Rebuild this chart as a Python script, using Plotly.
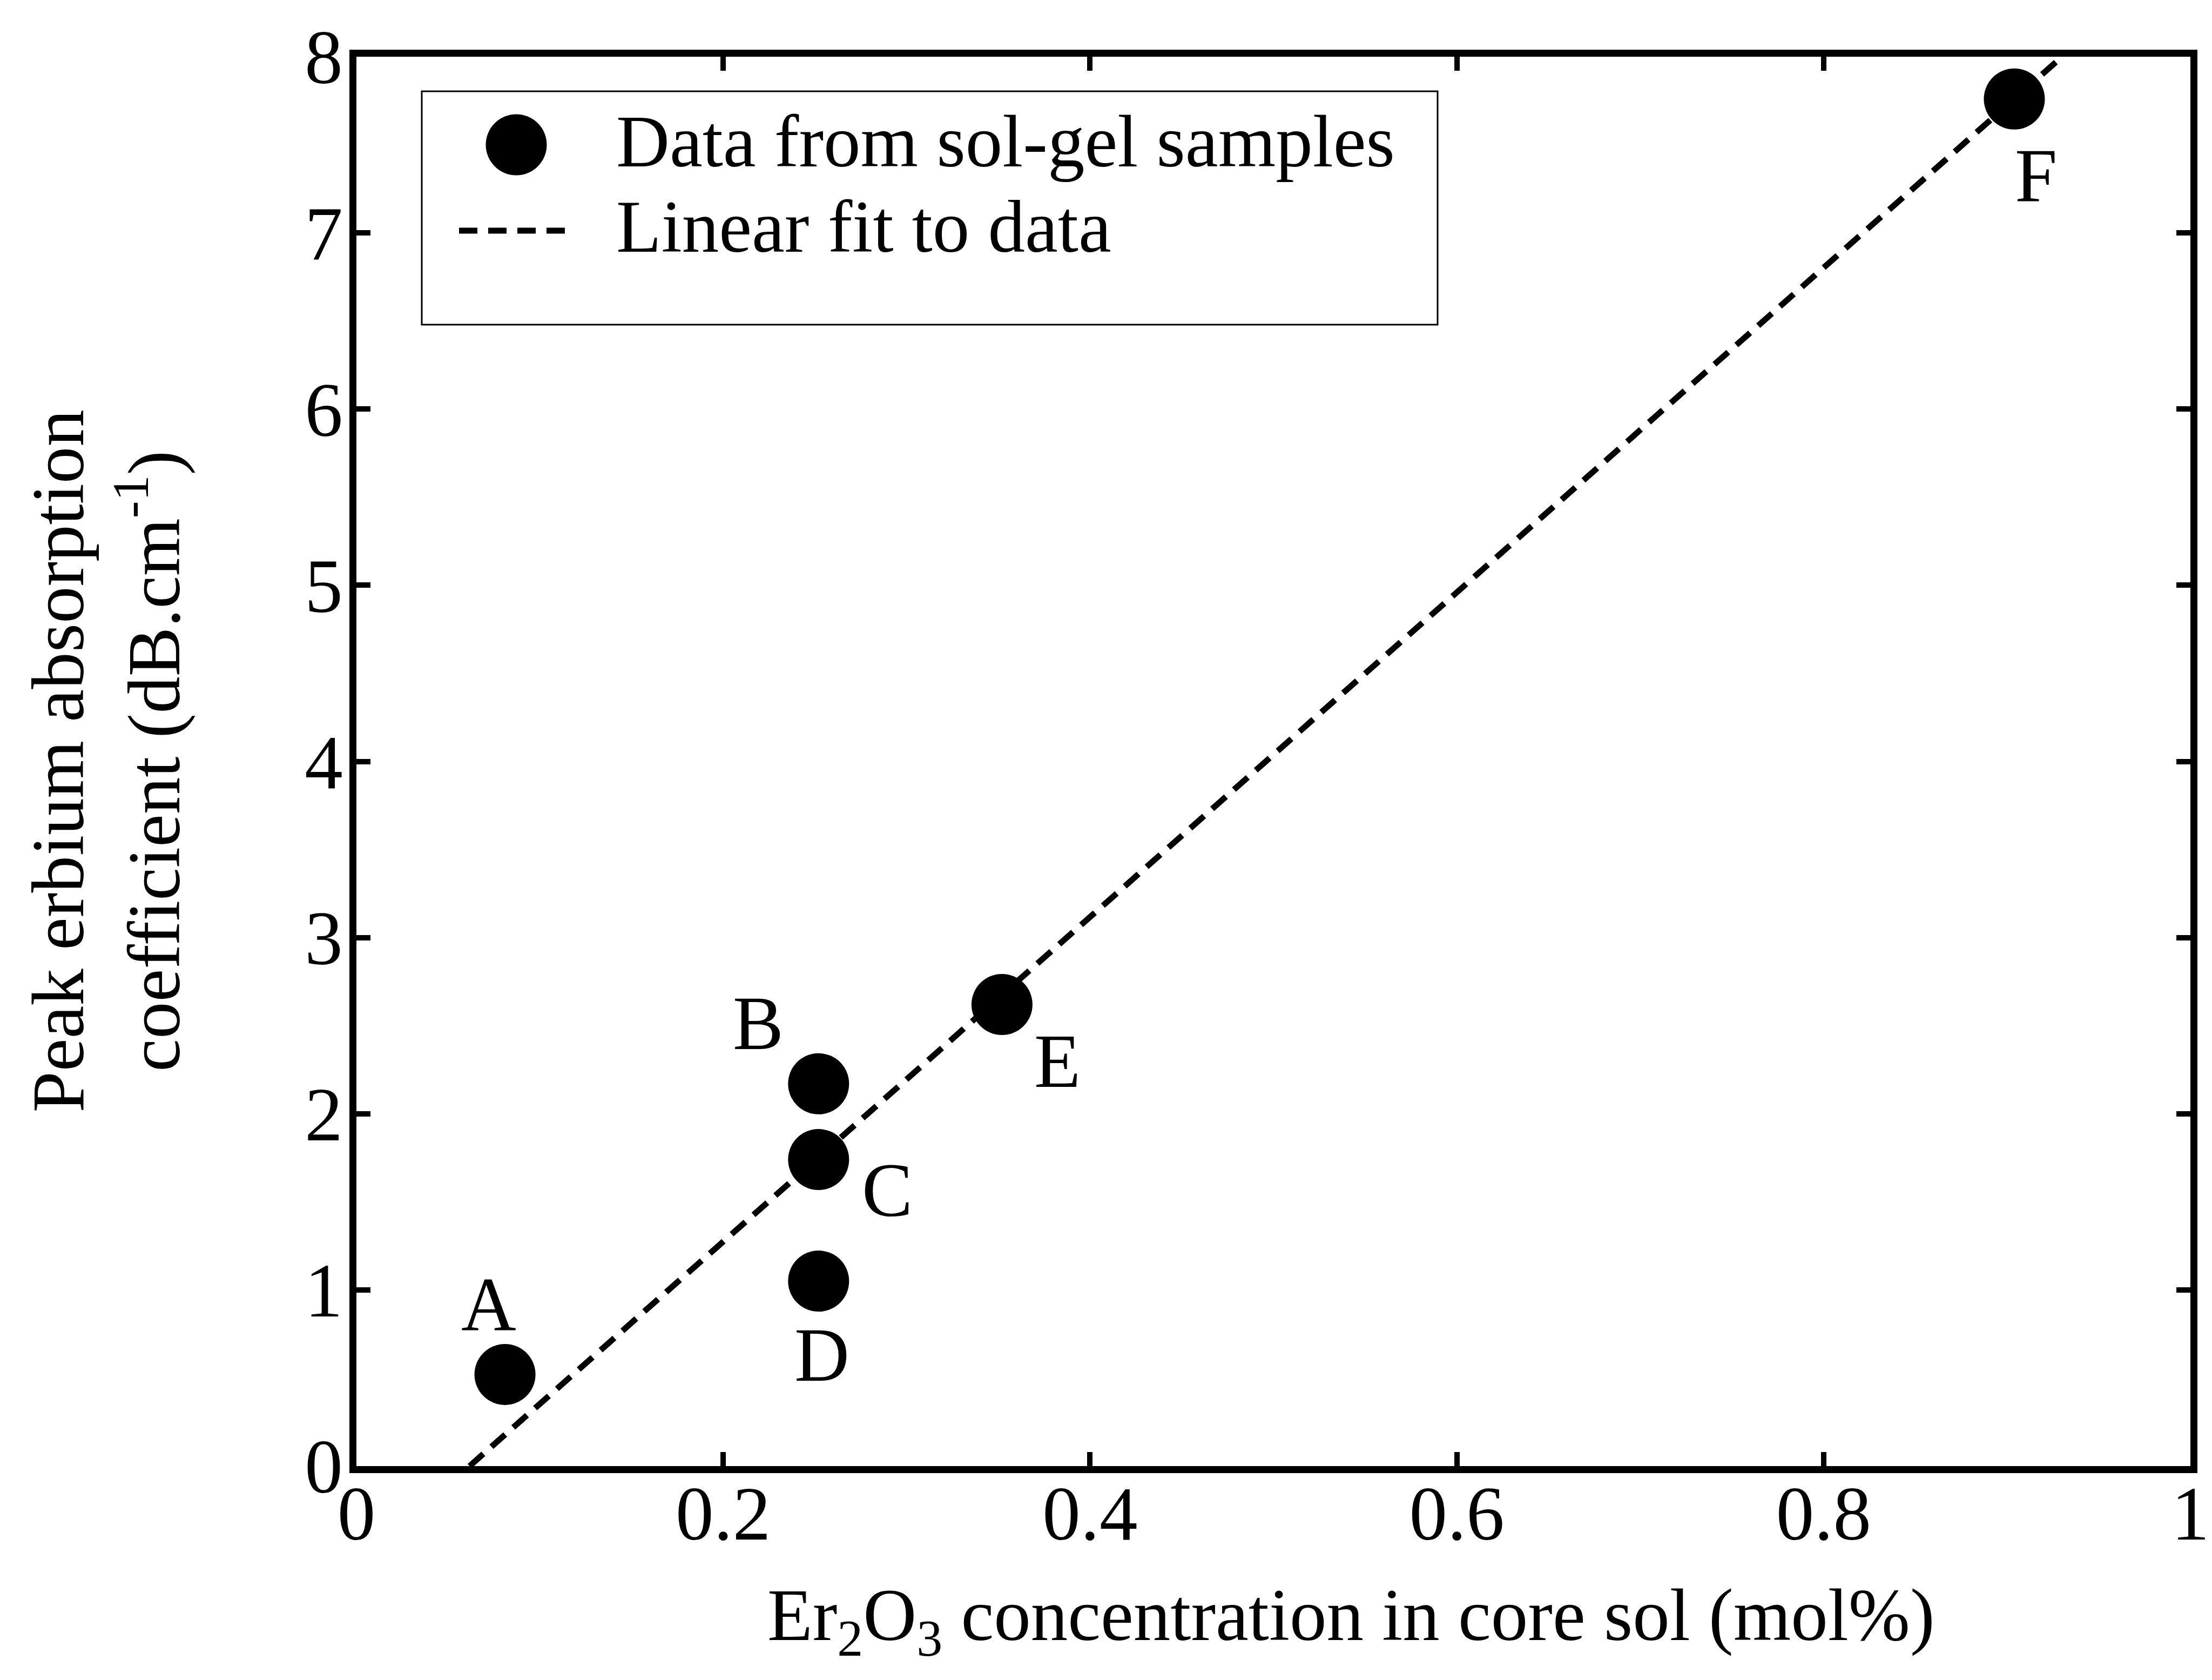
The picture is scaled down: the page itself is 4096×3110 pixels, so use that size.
import plotly.graph_objects as go

# ---------------- data ----------------
sample_labels = ["A", "B", "C", "D", "E", "F"]
er2o3_conc = [0.081, 0.252, 0.252, 0.252, 0.352, 0.904]      # mol%
peak_absorption = [0.52, 2.17, 1.74, 1.05, 2.62, 7.76]        # dB/cm
fit_x = [0.0617, 0.930]
fit_y = [0.0, 8.0]
x_ticks = [0, 0.2, 0.4, 0.6, 0.8, 1]
x_ticktext = ["0", "0.2", "0.4", "0.6", "0.8", "1"]
y_ticks = [0, 1, 2, 3, 4, 5, 6, 7, 8]
y_ticktext = ["0", "1", "2", "3", "4", "5", "6", "7", "8"]

# ---------------- layout constants ----------------
W, H = 4096, 3110
L, R, T, B = 660, 40, 105, 396
PW, PH = W - L - R, H - T - B
FONT = "Liberation Serif, Times New Roman, serif"
FS = 141
FS_TXT = 137
MSIZE = 113

def px(xp):
    return (xp - L) / PW

def py(yp):
    return (H - B - yp) / PH

fig = go.Figure()

fig.add_trace(go.Scatter(
    x=fit_x, y=fit_y, mode="lines",
    line=dict(color="black", width=11, dash="34px,20px"),
    showlegend=False, hoverinfo="skip",
))
fig.add_trace(go.Scatter(
    x=er2o3_conc, y=peak_absorption, mode="markers",
    marker=dict(color="black", size=MSIZE, line=dict(width=0)),
    showlegend=False, cliponaxis=False,
))

# point labels (pixel offsets from each point)
label_offsets = {"A": (-30, 130), "B": (-112, 112), "C": (127, -56),
                 "D": (6, -136), "E": (103, -104), "F": (40, -142)}
for lab, xv, yv in zip(sample_labels, er2o3_conc, peak_absorption):
    dx, dy = label_offsets[lab]
    fig.add_annotation(x=xv, y=yv, xref="x", yref="y", text=lab, showarrow=False,
                       xshift=dx, yshift=dy,
                       font=dict(family=FONT, size=FS, color="black"))

# ---------------- manual legend ----------------
shapes = []
shapes.append(dict(type="rect", xref="paper", yref="paper",
                   x0=px(781), x1=px(2662), y0=py(169), y1=py(601),
                   line=dict(color="black", width=3), fillcolor="white", layer="above"))
shapes.append(dict(type="circle", xref="paper", yref="paper",
                   xsizemode="pixel", ysizemode="pixel",
                   xanchor=px(956), yanchor=py(268),
                   x0=-MSIZE / 2, x1=MSIZE / 2, y0=-MSIZE / 2, y1=MSIZE / 2,
                   fillcolor="black", line=dict(color="black", width=0), layer="above"))
shapes.append(dict(type="line", xref="paper", yref="paper",
                   x0=px(850), x1=px(1053), y0=py(427), y1=py(427),
                   line=dict(color="black", width=11, dash="34px,20px"), layer="above"))
fig.add_annotation(xref="paper", yref="paper", x=px(1139), y=py(262),
                   xanchor="left", yanchor="middle", showarrow=False,
                   text="Data from sol-gel samples",
                   font=dict(family=FONT, size=FS_TXT, color="black"))
fig.add_annotation(xref="paper", yref="paper", x=px(1139), y=py(420),
                   xanchor="left", yanchor="middle", showarrow=False,
                   text="Linear fit to data",
                   font=dict(family=FONT, size=FS_TXT, color="black"))

# ---------------- axis titles ----------------
fig.add_annotation(xref="paper", yref="paper", x=px(2502), y=py(3000),
                   xanchor="center", yanchor="middle", showarrow=False,
                   text="Er<sub>2</sub>O<sub>3</sub> concentration in core sol (mol%)",
                   font=dict(family=FONT, size=FS_TXT, color="black"))
fig.add_annotation(xref="paper", yref="paper", x=px(196), y=0.5,
                   xanchor="center", yanchor="middle", showarrow=False, textangle=-90,
                   text="Peak erbium absorption<br>coefficient (dB.cm<sup>-1</sup>)",
                   font=dict(family=FONT, size=FS_TXT, color="black"))

axis_common = dict(
    showgrid=False, zeroline=False, showline=True, linecolor="black", linewidth=13,
    mirror="ticks", ticks="inside", ticklen=26, tickwidth=10, tickcolor="black",
    tickfont=dict(family=FONT, size=FS, color="black"),
    ticklabeloverflow="allow",
)
fig.update_xaxes(range=[0, 1], tickvals=x_ticks, ticktext=x_ticktext,
                 ticklabelstandoff=-46, **axis_common)
fig.update_yaxes(range=[0, 8], tickvals=y_ticks, ticktext=y_ticktext,
                 ticklabelstandoff=-16, **axis_common)

fig.update_layout(
    width=W, height=H, margin=dict(l=L, r=R, t=T, b=B, autoexpand=False),
    paper_bgcolor="white", plot_bgcolor="white",
    shapes=shapes, showlegend=False,
    font=dict(family=FONT, size=FS, color="black"),
)

fig.write_html("out.html")
